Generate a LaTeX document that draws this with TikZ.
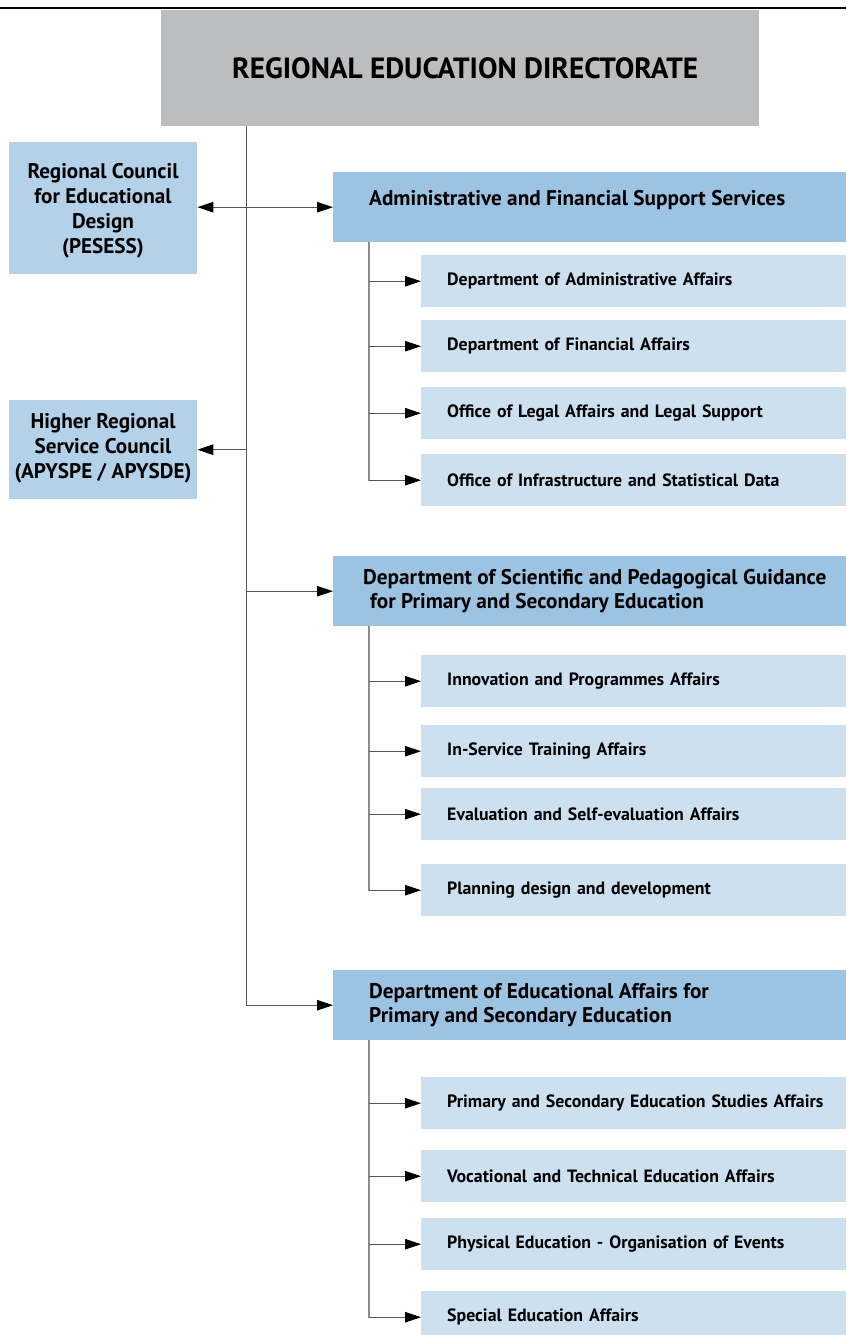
\documentclass[tikz,border=0pt]{standalone}
\usepackage{fontspec}
\setmainfont{PT Sans}
\usetikzlibrary{arrows.meta}
\definecolor{topgray}{HTML}{BCBDBF}
\definecolor{leftblue}{HTML}{B3D1E9}
\definecolor{deptblue}{HTML}{9DC3E2}
\definecolor{subblue}{HTML}{CCE0EF}
\definecolor{linegray}{HTML}{555555}
\definecolor{spinegray}{HTML}{8C8C8C}
\newlength\fitlen
\newcommand\fitsize[3]{\settowidth\fitlen{\fontsize{10pt}{12pt}\selectfont\bfseries #3}\pgfmathsetmacro#1{10*#2/\fitlen}\global\let#1#1}
\begin{document}
\fitsize\titlesz{466}{REGIONAL EDUCATION DIRECTORATE}%
\fitsize\deptsz{416}{Administrative and Financial Support Services}%
\fitsize\subsz{281}{Department of Administrative Affairs}%
\fitsize\leftsz{177}{(APYSPE / APYSDE)}%
\begin{tikzpicture}[x=1pt,y=-1pt]
\tikzset{
  box/.style={rectangle, inner sep=0pt, anchor=north west},
  titlebox/.style={box, fill=topgray, minimum width=598pt, minimum height=116pt,
    font=\fontsize{\titlesz pt}{\titlesz pt}\selectfont\bfseries},
  leftbox/.style={box, fill=leftblue, minimum width=188pt},
  leftlbl/.style={inner sep=0pt, align=center,
    font=\fontsize{\leftsz pt}{25pt}\selectfont\bfseries},
  deptbox/.style={box, fill=deptblue, minimum width=513pt, minimum height=70pt},
  deptlbl/.style={anchor=west, inner sep=0pt, align=left,
    font=\fontsize{\deptsz pt}{24.5pt}\selectfont\bfseries},
  subbox/.style={box, fill=subblue, minimum width=425pt, minimum height=52pt,
    inner xsep=0pt, text width=425pt, align=left,
    execute at begin node={\hspace*{26pt}},
    font=\fontsize{\subsz pt}{\subsz pt}\selectfont\bfseries},
  tip/.style={-{Triangle[length=16pt,width=10.5pt,color=black]}},
  conn/.style={draw=linegray, line width=0.9pt},
  spine/.style={draw=spinegray, line width=1.3pt}
}
\useasboundingbox (0,0) rectangle (846,1335);
\draw[black, line width=2pt] (0,8) -- (846,8);
% main boxes
\node[titlebox] (top) at (161,10) {\hspace*{10pt}REGIONAL EDUCATION DIRECTORATE};
\node[leftbox, minimum height=132pt] (left1) at (9,142) {};
\node[leftlbl] (left1lbl) at (103,211)
  {Regional Council\\for Educational\\Design\\(PESESS)};
\node[leftbox, minimum height=99pt] (left2) at (9,400) {};
\node[leftlbl] (left2lbl) at (103,448)
  {Higher Regional\\Service Council\\(APYSPE / APYSDE)};
\node[deptbox] (admin) at (333,172) {};
\node[deptlbl] (adminlbl) at (369,200) {Administrative and Financial Support Services};
\node[deptbox] (sci) at (333,556) {};
\node[deptlbl] (scilbl) at (363,591)
  {Department of Scientific and Pedagogical Guidance\\\hspace*{7pt}for Primary and Secondary Education};
\node[deptbox] (edu) at (333,970) {};
\node[deptlbl] (edulbl) at (369,1005)
  {Department of Educational Affairs for\\Primary and Secondary Education};
% sub boxes
\node[subbox] (s1) at (421,255) {Department of Administrative Affairs};
\node[subbox] (s2) at (421,320) {Department of Financial Affairs};
\node[subbox] (s3) at (421,387) {Office of Legal Affairs and Legal Support};
\node[subbox] (s4) at (421,454) {Office of Infrastructure and Statistical Data};
\node[subbox] (s5) at (421,655) {Innovation and Programmes Affairs};
\node[subbox] (s6) at (421,725) {In-Service Training Affairs};
\node[subbox] (s7) at (421,788) {Evaluation and Self-evaluation Affairs};
\node[subbox] (s8) at (421,864) {Planning design and development};
\node[subbox] (s9) at (421,1077) {Primary and Secondary Education Studies Affairs};
\node[subbox] (s10) at (421,1150) {Vocational and Technical Education Affairs};
\node[subbox] (s11) at (421,1218) {Physical Education - Organisation of Events};
\node[subbox] (s12) at (421,1291) {Special Education Affairs};
% main spine
\coordinate (m0) at (246,126);
\draw[conn, tip] (m0) |- (edu.west);
\draw[conn, {Triangle[length=16pt,width=10.5pt,color=black]}-{Triangle[length=16pt,width=10.5pt,color=black]}]
  (left1.east |- admin.west) -- (admin.west);
\draw[conn, tip] (m0 |- left2.east) -- (left2.east);
\draw[conn, tip] (m0 |- sci.west) -- (sci.west);
% sub spines
\coordinate (a0) at (369,242);
\coordinate (b0) at (369,626);
\coordinate (c0) at (369,1040);
\draw[spine] (a0) |- ([xshift=-16pt]s4.west);
\draw[spine] (b0) |- ([xshift=-16pt]s8.west);
\draw[spine] (c0) |- ([xshift=-16pt]s12.west);
\foreach \s in {s1,s2,s3,s4} \draw[conn, tip] (a0 |- \s.west) -- (\s.west);
\foreach \s in {s5,s6,s7,s8} \draw[conn, tip] (b0 |- \s.west) -- (\s.west);
\foreach \s in {s9,s10,s11,s12} \draw[conn, tip] (c0 |- \s.west) -- (\s.west);
\end{tikzpicture}
\end{document}
